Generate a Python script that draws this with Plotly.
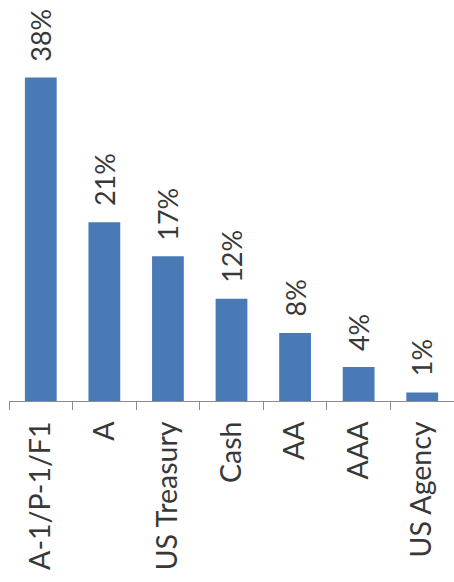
import plotly.graph_objects as go

# Portfolio allocation by credit quality
categories = ["A-1/P-1/F1", "A", "US Treasury", "Cash", "AA", "AAA", "US Agency"]
shares = [38, 21, 17, 12, 8, 4, 1]
share_labels = [f"{v}%" for v in shares]

bar_color = "#4A7AB6"
text_color = "#383838"
font_family = "Lato, Open Sans, sans-serif"

fig = go.Figure()
fig.add_trace(go.Bar(
    x=categories,
    y=shares,
    marker=dict(color=bar_color, line=dict(width=0)),
    width=0.5,
    hoverinfo="skip",
))

# value labels, rotated and sitting above each bar
for cat, val, lab in zip(categories, shares, share_labels):
    fig.add_annotation(
        x=cat, y=val, text=lab, textangle=-90,
        showarrow=False, xanchor="center", yanchor="bottom",
        yshift=14, font=dict(family=font_family, size=27, color=text_color),
    )

fig.update_layout(
    width=454, height=582,
    margin=dict(l=9, r=0, t=0, b=181),
    plot_bgcolor="white", paper_bgcolor="white",
    showlegend=False,
    bargap=0.5,
)
fig.update_xaxes(
    type="category",
    showline=True, linecolor="#8C8C8C", linewidth=1.2,
    ticks="outside", tickson="boundaries", ticklen=8, tickcolor="#8C8C8C",
    tickangle=-90,
    tickfont=dict(family=font_family, size=28.5, color=text_color),
    ticklabelstandoff=8,
    showgrid=False,
)
fig.update_yaxes(
    range=[0, 47.1], visible=False, showgrid=False, zeroline=False,
)

fig.write_html("out.html")
